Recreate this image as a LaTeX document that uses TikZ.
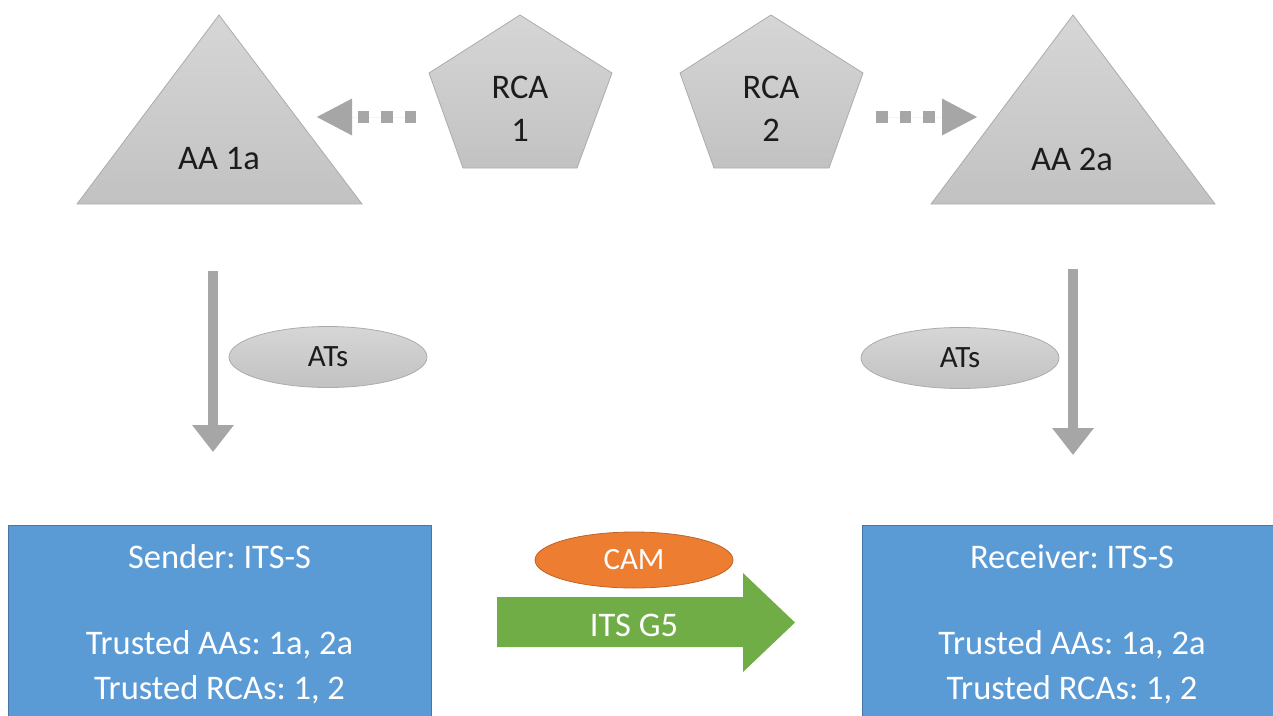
\documentclass[tikz,border=0pt]{standalone}
\usepackage{fontspec}
\setmainfont{Carlito}
\frenchspacing
\usetikzlibrary{arrows.meta,shapes.geometric}
\definecolor{shapetop}{RGB}{214,214,214}
\definecolor{shapebot}{RGB}{194,194,194}
\definecolor{shapeedge}{RGB}{172,172,172}
\definecolor{arrowgray}{RGB}{166,166,166}
\definecolor{boxblue}{RGB}{91,155,213}
\definecolor{boxedge}{RGB}{70,118,165}
\definecolor{camorange}{RGB}{237,125,49}
\definecolor{camedge}{RGB}{190,100,40}
\definecolor{g5green}{RGB}{112,173,71}
\definecolor{txtdark}{RGB}{28,28,28}
\begin{document}
\frenchspacing
\begin{tikzpicture}[x=1pt,y=-1pt,
  bigtxt/.style={font=\fontsize{34.5}{43.5}\selectfont\frenchspacing, inner sep=0pt},
  smalltxt/.style={font=\fontsize{31}{36}\selectfont, inner sep=0pt},
  grayshape/.style={top color=shapetop, bottom color=shapebot, draw=shapeedge, line width=0.8pt},
  grayoval/.style={ellipse, grayshape, minimum width=198pt, minimum height=61pt, inner sep=0pt, smalltxt, text=txtdark},
  dotarrow/.style={draw=arrowgray, fill=arrowgray, line width=11.5pt, dash pattern=on 11.5pt off 12pt, -{Triangle[length=36pt,width=34pt]}},
  downarrow/.style={draw=arrowgray, fill=arrowgray, line width=10pt, -{Triangle[length=27pt,width=40pt]}},
  itsbox/.style={draw=boxedge, fill=boxblue, line width=1.2pt, minimum width=423pt, minimum height=205pt, anchor=north west, inner sep=0pt},
  boxtxt/.style={bigtxt, text=white, anchor=base}
]
\useasboundingbox (0,0) rectangle (1273,715);

% Triangles (AAs)
\path[grayshape] (77,204) -- (219,15) -- (362,204) -- cycle;
\node[bigtxt, text=txtdark] (aa1) at (219,159) {AA 1a};
\path[grayshape] (931,204) -- (1073,15) -- (1215,204) -- cycle;
\node[bigtxt, text=txtdark] (aa2) at (1072,159) {AA 2a};

% Pentagons (RCAs)
\path[grayshape] (520,15) -- (612,73) -- (577,168) -- (463,168) -- (429,73) -- cycle;
\node[bigtxt, text=txtdark, align=center] (rca1) at (520,109) {RCA\\1};
\path[grayshape] (771,15) -- (863,73) -- (829,168) -- (714,168) -- (680,73) -- cycle;
\node[bigtxt, text=txtdark, align=center] (rca2) at (771,109) {RCA\\2};

% Dotted arrows
\coordinate (d1s) at (416,117);
\coordinate (d1e) at (316,117);
\draw[dotarrow] (d1s) -- (d1e);
\coordinate (d2s) at (876,117);
\coordinate (d2e) at (978,117);
\draw[dotarrow] (d2s) -- (d2e);

% Vertical arrows
\coordinate (v1s) at (213,271);
\coordinate (v1e) at (213,452);
\draw[downarrow] (v1s) -- (v1e);
\coordinate (v2s) at (1073,269);
\coordinate (v2e) at (1073,455);
\draw[downarrow] (v2s) -- (v2e);

% ATs ovals
\node[grayoval] (ats1) at (328,357) {ATs};
\node[grayoval] (ats2) at (960,358) {ATs};

% ITS-S boxes
\node[itsbox] (sender) at (8,525) {};
\node[itsbox] (receiver) at (862,525) {};
\node[boxtxt] (s1) at (219.5,568) {Sender: ITS-S};
\node[boxtxt] (s2) at (219.5,654) {Trusted AAs: 1a, 2a};
\node[boxtxt] (s3) at (219.5,699) {Trusted RCAs: 1, 2};
\node[boxtxt] (r1) at (1072,568) {Receiver: ITS-S};
\node[boxtxt] (r2) at (1072,654) {Trusted AAs: 1a, 2a};
\node[boxtxt] (r3) at (1072,699) {Trusted RCAs: 1, 2};

% ITS G5 block arrow
\path[fill=g5green] (497,597) -- (743,597) -- (743,573) -- (795,622.5) -- (743,672) -- (743,647) -- (497,647) -- cycle;
\node[bigtxt, text=white] (g5) at (634,625) {ITS G5};

% CAM oval
\node[ellipse, fill=camorange, draw=camedge, line width=0.8pt, minimum width=198pt, minimum height=56pt, inner sep=0pt, smalltxt, text=white] (cam) at (634,560) {CAM};
\end{tikzpicture}
\end{document}
